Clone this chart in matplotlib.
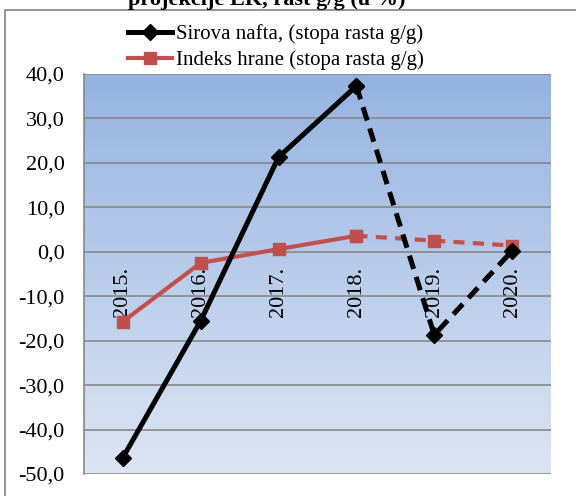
import numpy as np
import matplotlib.pyplot as plt
from matplotlib.patches import Rectangle
from matplotlib.lines import Line2D

plt.rcParams['font.family'] = ['Liberation Serif', 'DejaVu Serif']
plt.rcParams['lines.scale_dashes'] = False

# data
years = ['2015.', '2016.', '2017.', '2018.', '2019.', '2020.']
nafta = [-46.3, -15.5, 21.3, 37.3, -18.7, 0.2]
hrana = [-15.7, -2.5, 0.6, 3.6, 2.5, 1.4]
yticks = [-50, -40, -30, -20, -10, 0, 10, 20, 30, 40]
ytick_labels = ['-50,0', '-40,0', '-30,0', '-20,0', '-10,0', '0,0', '10,0', '20,0', '30,0', '40,0']
split = 3  # last actual year; after this the lines are dashed (projection)

W, H = 576, 496
fig = plt.figure(figsize=(W / 100, H / 100), dpi=100)

# outer chart frame (cut at right and bottom)
fig.patches.append(Rectangle((5 / W, -0.1), 1.2, 1 - 10 / H + 0.1, transform=fig.transFigure,
                             fill=False, edgecolor='#8c8c8c', lw=1.3))

fig.text(267 / W, 1 - 5 / H, 'projekcije EK, rast g/g (u %)', ha='center', va='baseline',
         fontsize=16, fontweight='bold')

ax = fig.add_axes([84 / W, 22 / H, 467 / W, 400 / H])
x = np.arange(len(years))

# gradient background of plot area
grad = np.linspace(0, 1, 256).reshape(-1, 1)
top = np.array([149, 179, 225]) / 255
bot = np.array([221, 229, 243]) / 255
img = top[None, None, :] * (1 - grad[:, :, None]) + bot[None, None, :] * grad[:, :, None]
ax.imshow(img, extent=[-0.5, 5.5, -50, 40], aspect='auto', origin='upper', zorder=0)

ax.set_xlim(-0.5, 5.5)
ax.set_ylim(-50, 40)
ax.set_yticks(yticks)
ax.set_yticklabels(ytick_labels, fontsize=16)
ax.set_xticks([])
ax.tick_params(axis='y', length=0, pad=14)
for y in yticks:
    ax.axhline(y, color='#888888', lw=1.2, zorder=1)
for s in ['top', 'right', 'bottom']:
    ax.spines[s].set_visible(False)
ax.spines['left'].set_color('#888888')
ax.spines['left'].set_linewidth(1.2)

for i, lab in enumerate(years):
    ax.annotate(lab, (x[i], 0), xytext=(0, -11), textcoords='offset points',
                rotation=90, ha='center', va='top', fontsize=16, zorder=2)

red = '#c0504d'
ax.plot(x[:split + 1], hrana[:split + 1], color=red, lw=3, marker='s', ms=9, zorder=3)
ax.plot(x[split:], hrana[split:], color=red, lw=3, marker='s', ms=9, dashes=(8, 6), zorder=3)
ax.plot(x[:split + 1], nafta[:split + 1], color='black', lw=3.6, marker='D', ms=8, zorder=4)
ax.plot(x[split:], nafta[split:], color='black', lw=3.6, marker='D', ms=8, dashes=(10, 6), zorder=4)

handles = [Line2D([], [], color='black', lw=3.6, marker='D', ms=8),
           Line2D([], [], color=red, lw=3, marker='s', ms=9)]
fig.legend(handles, ['Sirova nafta, (stopa rasta g/g)', 'Indeks hrane (stopa rasta g/g)'],
           loc='upper left', bbox_to_anchor=(128 / W, 1 - 24 / H), frameon=False, fontsize=15,
           handlelength=2.1, handletextpad=0.2, labelspacing=0.3, borderpad=0, borderaxespad=0)

fig.savefig('out.png', dpi=100)
